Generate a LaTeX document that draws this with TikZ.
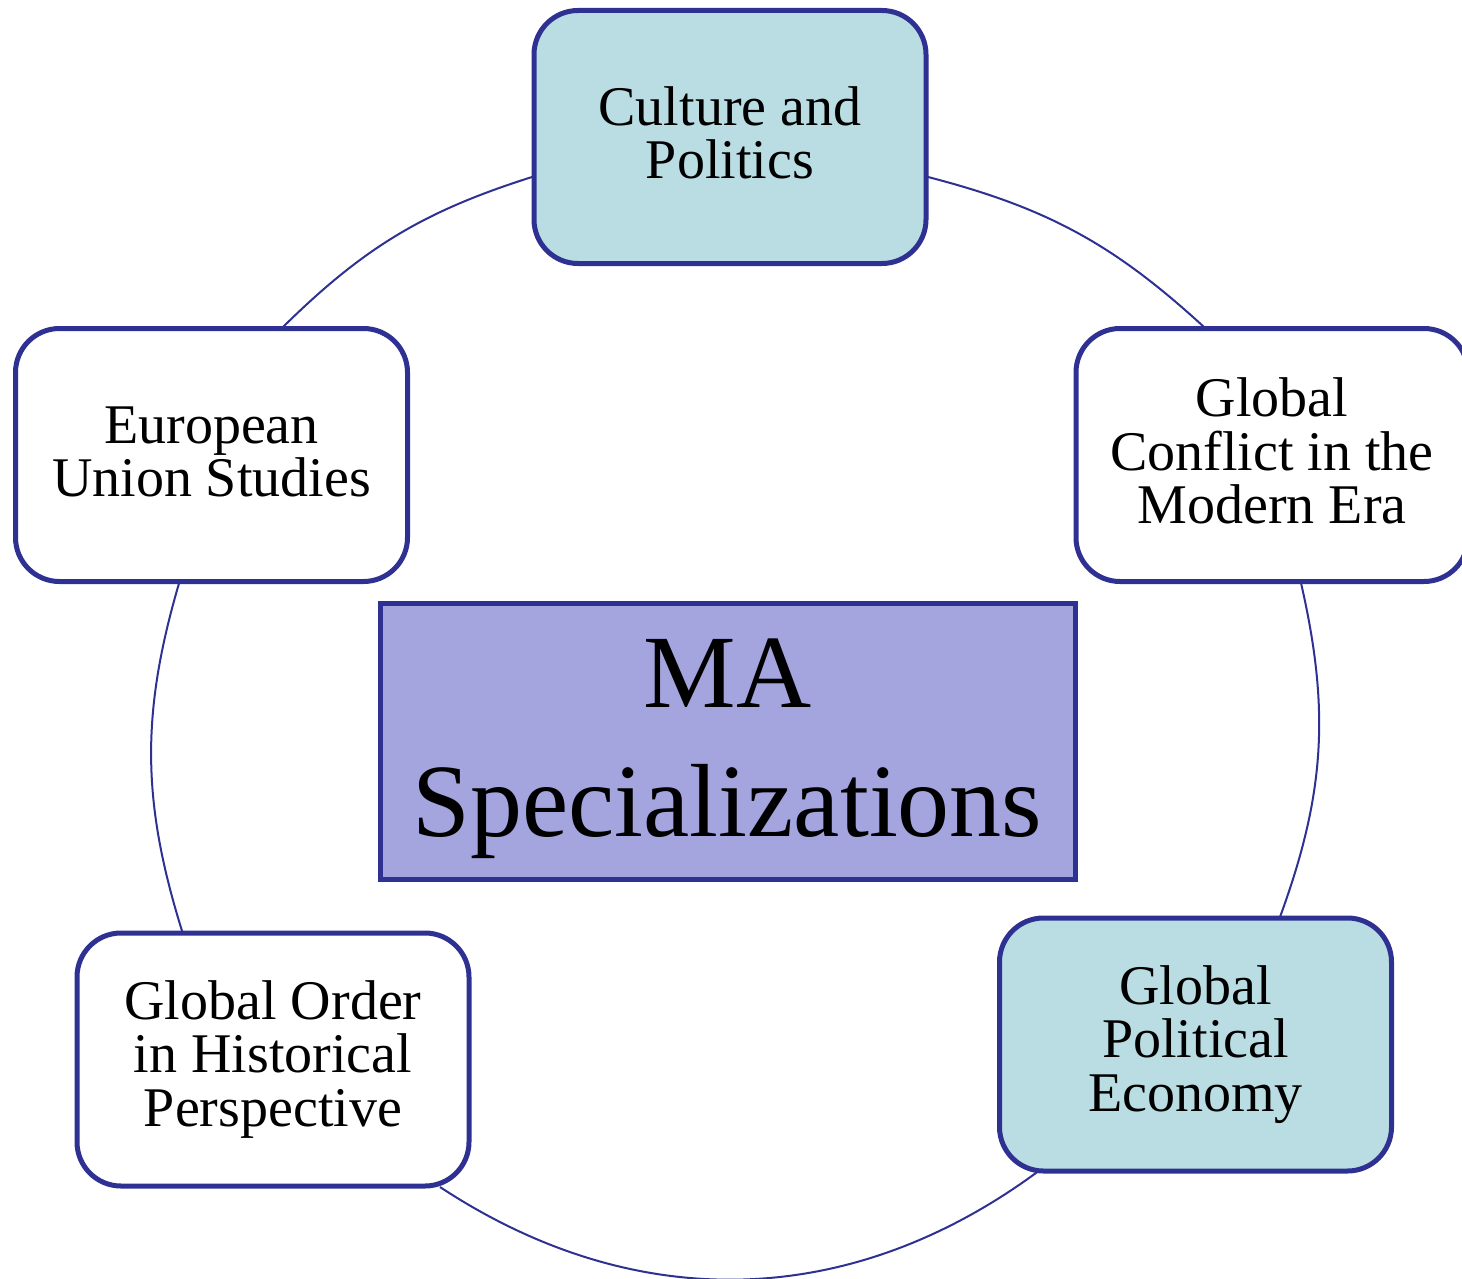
\documentclass[tikz,border=0pt]{standalone}
\usepackage{fontspec}
\setmainfont{Liberation Serif}
\definecolor{edgeblue}{HTML}{2E3192}
\definecolor{tealfill}{HTML}{B9DDE2}
\definecolor{centerfill}{HTML}{A4A4DE}
\tikzset{
  spec/.style={draw=edgeblue, line width=2.5pt, rounded corners=22pt,
    minimum width=196pt, minimum height=126.5pt, inner sep=0pt},
  specwhite/.style={spec, fill=white},
  specteal/.style={spec, fill=tealfill},
  spectext/.style={inner sep=0pt, align=center, font=\fontsize{28}{26.75}\selectfont},
  centerbox/.style={draw=edgeblue, line width=2.5pt, fill=centerfill,
    minimum width=347.5pt, minimum height=138pt, inner sep=0pt},
  centertext/.style={inner sep=0pt, align=center, font=\fontsize{52}{64.5}\selectfont},
  cyclearc/.style={draw=edgeblue, line width=1pt}
}
\begin{document}
\begin{tikzpicture}[x=0.5pt, y=-0.5pt]
\useasboundingbox (0,0) rectangle (1462,1279);
\clip (0,0) rectangle (1462,1279);
% arc end points
\coordinate (a1s) at (283,327);
\coordinate (a1e) at (532,177);
\coordinate (a2s) at (928,177);
\coordinate (a2e) at (1204,327);
\coordinate (a3s) at (1301,583);
\coordinate (a3e) at (1280,917);
\coordinate (a4s) at (1040,1170);
\coordinate (a4e) at (440,1187);
\coordinate (a5s) at (183,934);
\coordinate (a5e) at (180,580);
\draw[cyclearc] (a1s) to[bend left=13.5] (a1e);
\draw[cyclearc] (a2s) to[bend left=14] (a2e);
\draw[cyclearc] (a3s) to[bend left=16.5] (a3e);
\draw[cyclearc] (a4s) to[bend left=35] (a4e);
\draw[cyclearc] (a5s) to[bend left=17] (a5e);
% boxes
\node[specteal] (cult) at (730,137) {};
\node[specwhite] (conf) at (1272,455) {};
\node[specteal] (gpe) at (1195.5,1044.5) {};
\node[specwhite] (gord) at (273,1059.5) {};
\node[specwhite] (eu) at (211.5,455) {};
\node[centerbox] (ma) at (727.5,741) {};
% texts
\node[spectext] (cult-t) at ([yshift=2pt]cult.center) {Culture and\\Politics};
\node[spectext] (conf-t) at ([yshift=2pt]conf.center) {Global\\Conflict in the\\Modern Era};
\node[spectext] (gpe-t) at (gpe.center) {Global\\Political\\Economy};
\node[spectext] (gord-t) at (gord.center) {Global Order\\in Historical\\Perspective};
\node[spectext] (eu-t) at ([yshift=1.5pt]eu.center) {European\\Union Studies};
\node[centertext] (ma-t) at ([yshift=-4pt]ma.center) {MA\\Specializations};
\end{tikzpicture}
\end{document}
